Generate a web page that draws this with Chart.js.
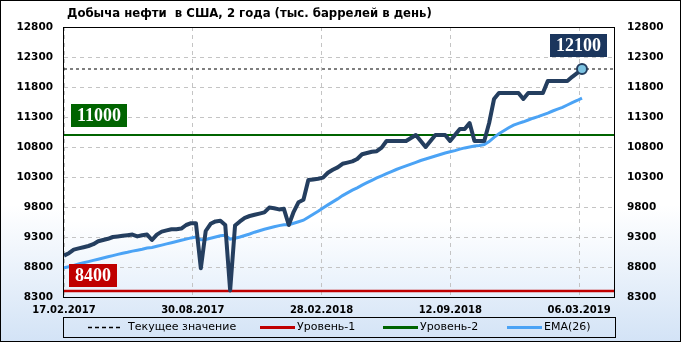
<!DOCTYPE html>
<html><head><meta charset="utf-8">
<script src="https://cdn.jsdelivr.net/npm/chart.js@4.4.1/dist/chart.umd.min.js"></script>
<style>html,body{margin:0;padding:0;background:#fff}canvas{display:block}</style>
</head><body>
<canvas id="c" width="681" height="342"></canvas>
<script>
const titleText = 'Добыча нефти  в США, 2 года (тыс. баррелей в день)';
const dateTickLabels = ['17.02.2017', '30.08.2017', '28.02.2018', '12.09.2018', '06.03.2019'];
const yMin = 8300, yMax = 12800, yStep = 500;
const production = [
  8990, 9030, 9090, 9110, 9130, 9150, 9180, 9230, 9250, 9270,
  9300, 9310, 9320, 9330, 9340, 9310, 9330, 9340, 9250, 9340,
  9390, 9410, 9430, 9430, 9440, 9500, 9530, 9530, 8780, 9400,
  9520, 9560, 9570, 9500, 8410, 9490, 9560, 9620, 9650, 9670,
  9690, 9710, 9790, 9780, 9760, 9770, 9500, 9720, 9880, 9920,
  10250, 10260, 10270, 10290, 10370, 10420, 10460, 10520, 10540, 10560,
  10600, 10680, 10700, 10720, 10730, 10790, 10900, 10900, 10900, 10900,
  10900, 10950, 11000, 10900, 10800, 10900, 11000, 11000, 11000, 10900,
  11000, 11100, 11100, 11200, 10900, 10900, 10900, 11200, 11600, 11700,
  11700, 11700, 11700, 11700, 11600, 11700, 11700, 11700, 11700, 11900,
  11900, 11900, 11900, 11900, 11970, 12030, 12100
];
const ema26 = [
  8785, 8805, 8825, 8850, 8870, 8890, 8910, 8930, 8950, 8970,
  8990, 9010, 9030, 9045, 9065, 9080, 9095, 9115, 9125, 9145,
  9165, 9185, 9205, 9225, 9245, 9265, 9285, 9300, 9255, 9260,
  9280, 9300, 9320, 9330, 9265, 9280, 9300, 9325, 9350, 9380,
  9405, 9430, 9450, 9470, 9490, 9505, 9505, 9530, 9555, 9580,
  9630, 9680, 9730, 9785, 9835, 9885, 9935, 9990, 10035, 10080,
  10120, 10165, 10205, 10245, 10285, 10320, 10355, 10390, 10425, 10455,
  10485, 10515, 10545, 10575, 10600, 10625, 10650, 10675, 10700, 10720,
  10740, 10765, 10785, 10800, 10815, 10825, 10840, 10890, 10960, 11020,
  11070, 11120, 11165, 11195, 11220, 11250, 11280, 11305, 11335, 11365,
  11400, 11430, 11460, 11500, 11540, 11575, 11615
];
const level1 = 8400;
const level2 = 11000;
const currentValue = production[production.length - 1];
const legendLabels = ['Текущее значение', 'Уровень-1', 'Уровень-2', 'EMA(26)'];

const X_MAX = 112.55;
const TICK_STEP = 26.35;
const NAVY = '#243e5f';
const lastIdx = production.length - 1;
const span = v => [{x: 0, y: v}, {x: X_MAX, y: v}];

const bgPlugin = {
  id: 'bg',
  beforeDraw(chart) {
    const ctx = chart.ctx, W = chart.width, H = chart.height, a = chart.chartArea;
    ctx.save();
    let g = ctx.createLinearGradient(0, 0, 0, H);
    g.addColorStop(0, '#ffffff'); g.addColorStop(0.6, '#ffffff'); g.addColorStop(1, '#d3e3f6');
    ctx.fillStyle = g; ctx.fillRect(0, 0, W, H);
    g = ctx.createLinearGradient(0, a.top, 0, a.bottom);
    g.addColorStop(0, '#ffffff'); g.addColorStop(0.72, '#ffffff'); g.addColorStop(1, '#e6f0fb');
    ctx.fillStyle = g; ctx.fillRect(a.left, a.top, a.right - a.left, a.bottom - a.top);
    ctx.restore();
  }
};

function labelBox(ctx, text, fill, cx, left, bottom) {
  ctx.font = 'bold 18px "Liberation Serif"';
  const w = Math.round(ctx.measureText(text).width) + 12, h = 23;
  const x = (cx !== null) ? Math.round(cx - w / 2) : left;
  const y = Math.round(bottom - h);
  ctx.fillStyle = fill; ctx.fillRect(x, y, w, h);
  ctx.fillStyle = '#ffffff'; ctx.textAlign = 'center'; ctx.textBaseline = 'middle';
  ctx.fillText(text, x + w / 2, y + h / 2 + 1);
}

const overlayPlugin = {
  id: 'overlay',
  afterDraw(chart) {
    const ctx = chart.ctx, a = chart.chartArea, xs = chart.scales.x, ys = chart.scales.y;
    ctx.save();
    ctx.strokeStyle = '#000'; ctx.lineWidth = 1;
    ctx.strokeRect(Math.round(a.left) - 0.5, Math.round(a.top) + 0.5, Math.round(a.right - a.left) + 1, Math.round(a.bottom - a.top));
    ctx.fillStyle = '#000'; ctx.font = 'bold 11.7px "DejaVu Sans"';
    ctx.textAlign = 'left'; ctx.textBaseline = 'middle';
    ctx.fillText(titleText, 67, 14);
    labelBox(ctx, String(currentValue), '#1b365d', xs.getPixelForValue(lastIdx) - 3, null, ys.getPixelForValue(currentValue) - 12);
    labelBox(ctx, String(level2), '#006400', null, a.left + 7, ys.getPixelForValue(level2) - 8);
    labelBox(ctx, String(level1), '#c00000', null, a.left + 5, ys.getPixelForValue(level1) - 4);
    ctx.strokeStyle = '#000'; ctx.lineWidth = 1;
    ctx.strokeRect(63.5, 317.5, 552, 20);
    const ly = 327.5;
    ctx.font = '11px "DejaVu Sans"'; ctx.fillStyle = '#000'; ctx.textBaseline = 'middle'; ctx.textAlign = 'left';
    ctx.setLineDash([4, 3]); ctx.lineWidth = 1.3; ctx.strokeStyle = '#000';
    ctx.beginPath(); ctx.moveTo(88, ly); ctx.lineTo(121, ly); ctx.stroke();
    ctx.setLineDash([]);
    ctx.fillText(legendLabels[0], 128, ly);
    const items = [[260, 295, '#c00000', 297, legendLabels[1]], [383, 418, '#006400', 420, legendLabels[2]], [507, 542, '#4ba3f5', 544, legendLabels[3]]];
    for (const [x1, x2, c, tx, t] of items) {
      ctx.strokeStyle = c; ctx.lineWidth = 3;
      ctx.beginPath(); ctx.moveTo(x1, ly); ctx.lineTo(x2, ly); ctx.stroke();
      ctx.fillText(t, tx, ly);
    }
    ctx.strokeStyle = '#000'; ctx.lineWidth = 1;
    ctx.strokeRect(0.5, 0.5, chart.width - 1, chart.height - 1);
    ctx.restore();
  }
};

const tickFont = {family: 'DejaVu Sans', size: 10.5, weight: 'bold'};
const plainNum = v => String(v);

new Chart(document.getElementById('c'), {
  type: 'line',
  data: {
    datasets: [
      {data: production.map((v, i) => ({x: i, y: v})), borderColor: NAVY, borderWidth: 4, order: 0,
       pointRadius: c => c.dataIndex === lastIdx ? 5 : 0, pointBackgroundColor: '#7ec4e2',
       pointBorderColor: NAVY, pointBorderWidth: 2, borderJoinStyle: 'round', tension: 0},
      {data: ema26.map((v, i) => ({x: i, y: v})), borderColor: '#4ba3f5', borderWidth: 3, pointRadius: 0, order: 1, tension: 0},
      {data: span(level2), borderColor: '#006400', borderWidth: 2, pointRadius: 0, order: 2},
      {data: span(level1), borderColor: '#c00000', borderWidth: 2.5, pointRadius: 0, order: 3},
      {data: span(currentValue), borderColor: '#000', borderWidth: 1, borderDash: [3, 3], pointRadius: 0, order: 4}
    ]
  },
  options: {
    responsive: false, animation: false, devicePixelRatio: 1,
    layout: {padding: {top: 27, left: 0, right: 0, bottom: 0}},
    plugins: {legend: {display: false}, tooltip: {enabled: false}, title: {display: false}},
    scales: {
      x: {
        type: 'linear', min: 0, max: X_MAX,
        afterBuildTicks: s => { s.ticks = dateTickLabels.map((_, i) => ({value: i * TICK_STEP})); },
        ticks: {callback: (v, i) => dateTickLabels[i], font: {family: 'DejaVu Sans', size: 10, weight: 'bold'}, color: '#000', padding: 7, maxRotation: 0, autoSkip: false},
        grid: {color: '#c4c4c4', drawTicks: false},
        border: {display: false, dash: [4, 4]},
        afterFit: s => { s.height = 45; }
      },
      y: {
        position: 'left', min: yMin, max: yMax,
        ticks: {stepSize: yStep, callback: plainNum, font: tickFont, color: '#000', padding: 11},
        grid: {color: '#c4c4c4', drawTicks: false},
        border: {display: false, dash: [4, 4]},
        afterFit: s => { s.width = 64; }
      },
      y2: {
        position: 'right', min: yMin, max: yMax,
        ticks: {stepSize: yStep, callback: plainNum, font: tickFont, color: '#000', padding: 13},
        grid: {display: false, drawTicks: false},
        border: {display: false},
        afterFit: s => { s.width = 67; }
      }
    }
  },
  plugins: [bgPlugin, overlayPlugin]
});
</script>
</body></html>
